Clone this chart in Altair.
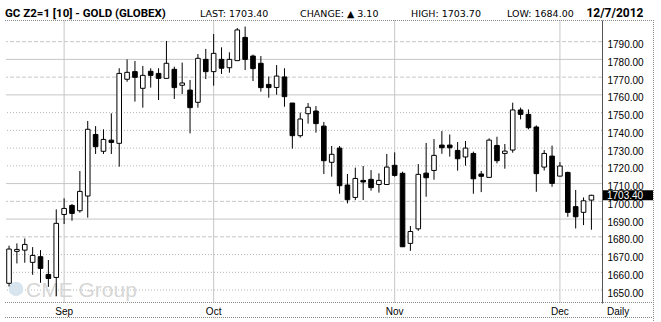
import altair as alt
import pandas as pd

# ---- data ----
opens = [1653.8, 1671.8, 1672.5, 1665.6, 1668.8, 1658.8, 1657.1, 1692.6, 1697.7, 1694.7,
         1703.0, 1737.7, 1728.2, 1734.5, 1732.7, 1768.8, 1773.1, 1763.7, 1773.3, 1772.1,
         1769.3, 1774.4, 1765.4, 1762.7, 1755.8, 1780.0, 1773.1, 1780.0, 1775.3, 1779.3,
         1792.4, 1781.9, 1777.8, 1765.9, 1764.2, 1770.1, 1755.4, 1737.0, 1749.4, 1750.9,
         1742.4, 1722.0, 1730.0, 1709.2, 1702.2, 1711.8, 1712.4, 1709.5, 1709.5, 1720.3,
         1715.8, 1676.3, 1684.5, 1715.9, 1717.4, 1731.7, 1731.7, 1728.7, 1725.0, 1727.0,
         1715.4, 1713.5, 1731.5, 1727.0, 1728.9, 1751.5, 1749.0, 1741.9, 1719.3, 1725.5,
         1714.2, 1716.3, 1697.0, 1693.8, 1700.7]
highs = [1675.0, 1676.3, 1679.1, 1674.2, 1672.5, 1666.9, 1695.5, 1701.7, 1698.5, 1717.1,
         1745.3, 1742.4, 1740.6, 1749.6, 1775.0, 1780.0, 1779.1, 1776.3, 1775.0, 1775.0,
         1790.4, 1775.9, 1778.2, 1768.4, 1783.0, 1785.9, 1794.3, 1786.8, 1784.0, 1797.7,
         1798.5, 1782.7, 1781.9, 1770.3, 1776.8, 1775.0, 1755.4, 1750.0, 1755.4, 1753.7,
         1744.7, 1731.2, 1731.2, 1715.4, 1719.0, 1719.9, 1717.6, 1715.8, 1726.7, 1727.6,
         1716.7, 1686.1, 1721.0, 1732.9, 1735.1, 1739.6, 1737.7, 1733.4, 1734.0, 1728.0,
         1717.1, 1735.5, 1736.4, 1732.3, 1755.6, 1752.8, 1751.8, 1742.8, 1728.9, 1731.4,
         1722.1, 1716.7, 1706.4, 1702.2, 1703.7]
lows = [1652.0, 1665.0, 1665.4, 1658.6, 1654.1, 1651.8, 1646.6, 1687.2, 1689.1, 1693.6,
        1690.8, 1726.7, 1726.7, 1726.7, 1719.5, 1767.4, 1756.2, 1752.8, 1764.1, 1757.1,
        1769.3, 1757.7, 1760.5, 1738.3, 1752.8, 1768.9, 1765.2, 1771.8, 1772.5, 1779.3,
        1774.0, 1767.8, 1761.8, 1758.4, 1760.1, 1753.3, 1729.7, 1735.9, 1743.8, 1738.7,
        1715.4, 1713.9, 1704.3, 1698.8, 1700.7, 1700.7, 1706.0, 1704.9, 1709.5, 1713.9,
        1674.4, 1672.1, 1683.4, 1702.6, 1712.2, 1726.8, 1725.2, 1717.3, 1720.1, 1704.3,
        1705.2, 1713.5, 1721.4, 1718.4, 1727.4, 1746.2, 1740.6, 1705.4, 1717.4, 1708.2,
        1714.2, 1691.3, 1684.7, 1686.6, 1684.0]
closes = [1673.1, 1672.9, 1675.7, 1669.5, 1662.2, 1656.5, 1687.6, 1696.0, 1693.2, 1705.6,
          1740.6, 1730.8, 1734.9, 1733.2, 1772.1, 1772.7, 1769.9, 1771.0, 1771.0, 1769.3,
          1777.8, 1764.1, 1766.7, 1752.8, 1780.6, 1773.1, 1783.4, 1775.0, 1780.0, 1796.6,
          1780.0, 1774.8, 1764.1, 1764.1, 1770.6, 1759.0, 1737.0, 1746.4, 1753.0, 1743.8,
          1722.9, 1726.5, 1708.8, 1700.9, 1712.9, 1710.9, 1707.7, 1711.8, 1719.3, 1714.6,
          1674.4, 1683.0, 1715.2, 1713.3, 1725.9, 1730.2, 1730.2, 1724.0, 1730.0, 1712.7,
          1714.1, 1734.5, 1722.9, 1728.3, 1751.5, 1749.0, 1741.5, 1715.6, 1727.0, 1710.1,
          1719.9, 1693.8, 1691.3, 1700.3, 1703.4]
bar_index = list(range(-1, len(opens) - 1))   # trading-day index (0 = Aug 24, 2012)

month_index = [6, 25, 48, 69]
month_names = ["Sep", "Oct", "Nov", "Dec"]

y_ticks = [1650, 1660, 1670, 1680, 1690, 1700, 1710, 1720, 1730, 1740, 1750, 1760, 1770, 1780, 1790]
solid_levels = [1780, 1760, 1710, 1690]
dashed_levels = [1790, 1770, 1700, 1680]
dotted_levels = [1750, 1740, 1730, 1720, 1670, 1660, 1650]

last_price = 1703.40

# ---- tables ----
candles = pd.DataFrame({"i": bar_index, "open": opens, "high": highs, "low": lows, "close": closes})
candles["dir"] = ["up" if c >= o else "down" for o, c in zip(opens, closes)]
months = pd.DataFrame({"i": month_index, "m": month_names})
one = pd.DataFrame({"d": [0]})

W, H = 596, 283
xs = alt.Scale(domain=[-0.75, 73.71], nice=False, zero=False)
ys = alt.Scale(domain=[1642.7, 1802.2], nice=False, zero=False)
SMALL = "DejaVu Sans"
LAB = "Liberation Sans"
BOLD = "Roboto"

yaxis = alt.Axis(orient="right", values=y_ticks, format=".2f", grid=False, ticks=False,
                 domainColor="#555555", domainWidth=1, labelFont=LAB, labelFontSize=10,
                 labelColor="black", labelPadding=5, labelBaseline="middle", labelOffset=3,
                 title=None, labelFlush=False, labelOverlap=False)


def Yq(field):
    return alt.Y(field, scale=ys, axis=yaxis, title=None)


def hgrid(levels, dash, color):
    return alt.Chart(pd.DataFrame({"v": levels})).mark_rule(
        color=color, strokeWidth=1, strokeDash=dash
    ).encode(y=Yq("v:Q"))


grid_solid = hgrid(solid_levels, [1, 0], "#c6c6c6")
grid_dashed = hgrid(dashed_levels, [4, 2], "#c6c6c6")
grid_dotted = hgrid(dotted_levels, [1, 2], "#b4b4b4")

vgrid = alt.Chart(months).mark_rule(color="#c6c6c6", strokeWidth=1).encode(
    x=alt.X("i:Q", scale=xs, axis=None))

month_labels = alt.Chart(months).mark_text(
    font=LAB, fontSize=10, baseline="alphabetic", align="center", color="black"
).encode(x=alt.X("i:Q", scale=xs, axis=None), y=alt.value(294.5), text="m:N")

# watermark
wm_text = alt.Chart(one).mark_text(
    font=LAB, fontSize=21, align="left", baseline="alphabetic", color="#d6d6d6"
).encode(x=alt.value(20), y=alt.value(277), text=alt.value("CME Group"))
wm_globe = alt.Chart(one).mark_point(
    shape="circle", filled=True, color="#d8e4ee", size=210, opacity=1
).encode(x=alt.value(10), y=alt.value(269))

wicks = alt.Chart(candles).mark_rule(color="black", strokeWidth=1, clip=True).encode(
    x=alt.X("i:Q", scale=xs, axis=None),
    y=Yq("low:Q"),
    y2="high:Q")

bodies = alt.Chart(candles).mark_bar(size=4.6, stroke="black", strokeWidth=1, clip=True).encode(
    x=alt.X("i:Q", scale=xs, axis=None),
    y=Yq("open:Q"),
    y2="close:Q",
    fill=alt.Fill("dir:N", scale=alt.Scale(domain=["up", "down"], range=["white", "black"]), legend=None))

price = pd.DataFrame({"p": [last_price]})
price_box = alt.Chart(price).transform_calculate(
    lo="datum.p - 2.8", hi="datum.p + 2.8"
).mark_rect(color="black").encode(
    x=alt.value(597), x2=alt.value(647),
    y=Yq("lo:Q"), y2="hi:Q")
price_text = alt.Chart(price).mark_text(
    font=LAB, fontSize=10, color="white", align="left", baseline="middle", dy=1
).encode(x=alt.value(601), y=Yq("p:Q"),
         text=alt.Text("p:Q", format=".2f"))


def label(txt, x, y, size, weight="normal", align="left", font=SMALL):
    return alt.Chart(one).mark_text(
        font=font, fontSize=size, fontWeight=weight, align=align, baseline="alphabetic", color="black"
    ).encode(x=alt.value(x), y=alt.value(y), text=alt.value(txt))


head_title = label("GC Z2=1 [10] - GOLD (GLOBEX)", -1, -3, 11.5, "bold", font=BOLD)
head_last = label("LAST: 1703.40", 194, -3, 9.5)
head_chg = label("CHANGE: ▲ 3.10", 294, -3, 9.5)
head_high = label("HIGH: 1703.70", 405, -3, 9.5)
head_low = label("LOW: 1684.00", 501, -3, 9.5)
head_date = label("12/7/2012", 637.5, -3, 12, "bold", align="right", font=BOLD)
daily = label("Daily", 601, 294.5, 10, font=LAB)


def hline(x1, x2, y):
    return alt.Chart(one).mark_rule(color="#8a8a8a", strokeWidth=1, strokeDash=[1, 1]).encode(
        x=alt.value(x1), x2=alt.value(x2), y=alt.value(y))


border_top = hline(-1, 647, 0.5)
border_bot = hline(-1, 647, 282.5)
border_bot2 = hline(-1, 647, 297.5)
border_right = alt.Chart(one).mark_rule(color="#8a8a8a", strokeWidth=1, strokeDash=[1, 1]).encode(
    x=alt.value(647.5), y=alt.value(0), y2=alt.value(302))

chart = alt.layer(
    grid_solid, grid_dashed, grid_dotted, vgrid, wm_globe, wm_text,
    wicks, bodies, price_box, price_text,
    month_labels, daily, head_title, head_last, head_chg, head_high, head_low, head_date,
    border_top, border_bot, border_bot2, border_right,
).properties(
    width=W, height=H,
    autosize=alt.AutoSizeParams(type="none"),
    padding={"left": 6, "top": 20, "right": 59, "bottom": 19},
    background="white",
).configure_view(stroke=None)

chart.save("out.html", embed_options={"renderer": "svg", "actions": False})
